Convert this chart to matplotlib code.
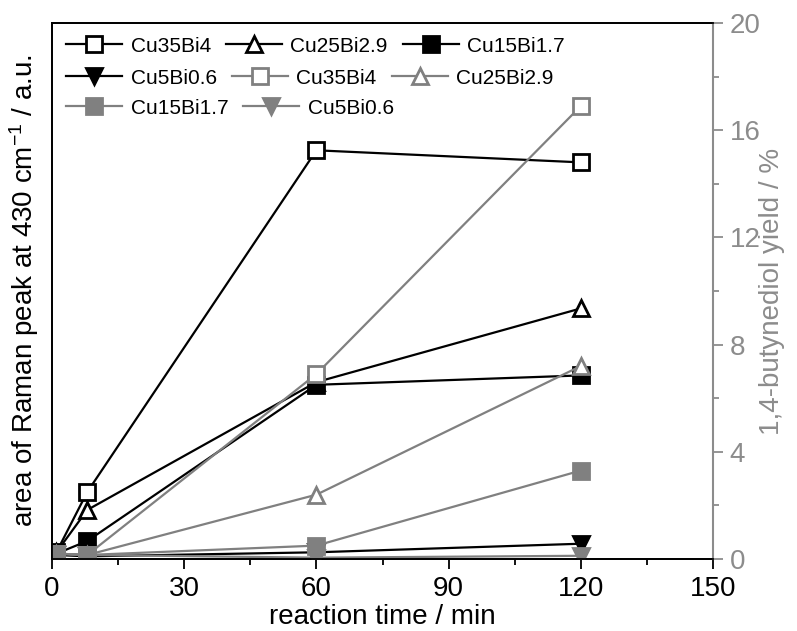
import matplotlib
matplotlib.use("Agg")
import matplotlib.pyplot as plt
from matplotlib.ticker import MultipleLocator

plt.rcParams['font.family'] = ['Liberation Sans', 'DejaVu Sans']
plt.rcParams['mathtext.fontset'] = 'custom'
plt.rcParams['mathtext.rm'] = 'Liberation Sans'
plt.rcParams['mathtext.it'] = 'Liberation Sans:italic'

# reaction times (min)
time = [1, 8, 60, 120]

catalysts = ["Cu35Bi4", "Cu25Bi2.9", "Cu15Bi1.7", "Cu5Bi0.6"]

# Raman peak area at 430 cm-1 (a.u.)
raman_cu35 = [0.25, 2.5, 15.25, 14.8]
raman_cu25 = [0.25, 1.83, 6.6, 9.35]
raman_cu15 = [0.2, 0.67, 6.5, 6.85]
raman_cu5 = [0.15, 0.1, 0.25, 0.57]

# 1,4-butynediol yield (%)
yield_cu35 = [0.2, 0.15, 6.9, 16.9]
yield_cu25 = [0.2, 0.15, 2.4, 7.2]
yield_cu15 = [0.2, 0.15, 0.5, 3.3]
yield_cu5 = [0.2, 0.15, 0.05, 0.12]

x_ticks = [0, 30, 60, 90, 120, 150]
y2_ticks = [0, 4, 8, 12, 16, 20]

GRAY = '#808080'
AXGRAY = '#8c8c8c'
FS = 20

W, H = 797, 631
fig = plt.figure(figsize=(W / 100, H / 100), dpi=100)
ax = fig.add_axes([52 / W, 1 - 559 / H, 661 / W, 536 / H])
ax2 = ax.twinx()

styles = [
    dict(marker='s', open=True),
    dict(marker='^', open=True),
    dict(marker='s', open=False),
    dict(marker='v', open=False),
]

handles = []
for name, vals, st in zip(catalysts, [raman_cu35, raman_cu25, raman_cu15, raman_cu5], styles):
    mfc = 'white' if st['open'] else 'black'
    h, = ax.plot(time, vals, color='black', lw=1.6, marker=st['marker'],
                 ms=11, mfc=mfc, mec='black', mew=2.0, label=name)
    handles.append(h)
for name, vals, st in zip(catalysts, [yield_cu35, yield_cu25, yield_cu15, yield_cu5], styles):
    mfc = 'white' if st['open'] else GRAY
    h, = ax2.plot(time, vals, color=GRAY, lw=1.6, marker=st['marker'],
                  ms=11, mfc=mfc, mec=GRAY, mew=2.0, label=name)
    handles.append(h)

ax.set_xlim(0, 150)
ax.set_ylim(0, 20)
ax2.set_ylim(0, 20)

ax.set_xticks(x_ticks)
ax.xaxis.set_minor_locator(MultipleLocator(15))
ax.tick_params(axis='x', which='major', direction='out', length=7, width=1.3,
               labelsize=FS, pad=5)
ax.tick_params(axis='x', which='minor', direction='out', length=4, width=1.3)
ax.tick_params(axis='y', which='both', left=False, labelleft=False)

ax2.set_yticks(y2_ticks)
ax2.yaxis.set_minor_locator(MultipleLocator(2))
ax2.tick_params(axis='y', which='major', direction='out', length=7, width=1.3,
                labelsize=FS, colors=AXGRAY, pad=5)
ax2.tick_params(axis='y', which='minor', direction='out', length=4, width=1.3,
                colors=AXGRAY)

for sp in ['left', 'bottom', 'top']:
    ax.spines[sp].set_linewidth(1.3)
    ax2.spines[sp].set_linewidth(1.3)
ax2.spines['right'].set_color(AXGRAY)
ax2.spines['right'].set_linewidth(1.5)
ax.spines['right'].set_visible(False)

ax.set_xlabel('reaction time / min', fontsize=FS, labelpad=2)
ax.set_ylabel('area of Raman peak at 430 cm$^{-1}$ / a.u.', fontsize=FS)
ax.yaxis.set_label_coords(-0.016, 0.5)
ax2.set_ylabel('1,4-butynediol yield / %', fontsize=FS, color=AXGRAY)
ax2.yaxis.set_label_coords(1.069, 0.5)

# legend laid out row by row, each row packed from the left
rows = [[0, 1, 2], [3, 4, 5], [6, 7]]
row_y = [45, 77, 107]
for idx, yc in zip(rows, row_y):
    fig.legend([handles[i] for i in idx], [handles[i].get_label() for i in idx],
               loc='center left', bbox_to_anchor=(66 / W, 1 - (yc + 1) / H),
               ncol=len(idx), frameon=False, fontsize=15, handlelength=2.7,
               handletextpad=0.4, columnspacing=0.72, borderpad=0,
               borderaxespad=0, numpoints=1)

fig.savefig('out.png', dpi=100)
